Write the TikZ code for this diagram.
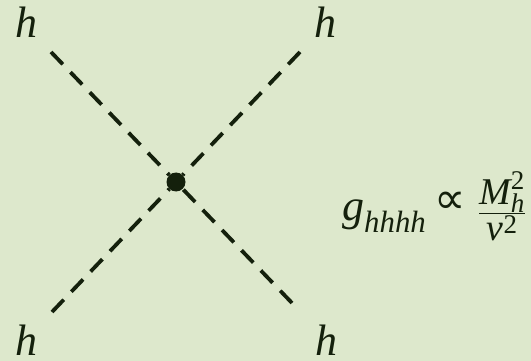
\documentclass[tikz,border=0pt]{standalone}
\usepackage{amsmath}
\usepackage{fontspec}
\setmainfont{Liberation Serif}
\newfontfamily\symbfont{DejaVu Sans}
\usetikzlibrary{positioning}
\definecolor{bgcol}{RGB}{221,232,204}
\definecolor{inkcol}{RGB}{20,32,12}

\begin{document}
\begin{tikzpicture}[x=1pt,y=-1pt,font=\fontsize{44}{50}\selectfont,
 prop/.style={draw=inkcol,line width=3.8pt,dash pattern=on 17pt off 11pt},
 vtx/.style={circle,fill=inkcol,inner sep=0pt,minimum size=19pt},
 lbl/.style={text=inkcol,inner sep=0pt,anchor=base}]
\fill[bgcol] (0,0) rectangle (531,361);
\useasboundingbox (0,0) rectangle (531,361);
% vertex and external legs
\node[vtx] (v) at (176,182) {};
\node[lbl] (h1) at (27,38) {\textit{h}};
\node[lbl] (h2) at (325,38) {\textit{h}};
\node[lbl] (h3) at (27,355) {\textit{h}};
\node[lbl] (h4) at (326,355) {\textit{h}};
\coordinate (e1) at (51,52);
\coordinate (e2) at (300,52);
\coordinate (e3) at (52,312);
\coordinate (e4) at (292,303);
\draw[prop] (e1) -- (v);
\draw[prop] (e2) -- (v);
\draw[prop] (e3) -- (v);
\draw[prop] (e4) -- (v);
% coupling
\node[lbl,anchor=base west] (coup) at (342,220)
 {$\textit{g}_{\textit{hhhh}}$};
\node[lbl,anchor=center,font=\symbfont\fontsize{44}{48}\selectfont] (pr) at (450,203) {∝};
\node[lbl,anchor=base west,font=\fontsize{54}{60}\selectfont] (ratio) at (478,220)
 {$\frac{\textit{M}_{\textit{h}}^{\textup{2}}}{\textit{v}^{\textup{2}}}$};
\end{tikzpicture}
\end{document}
